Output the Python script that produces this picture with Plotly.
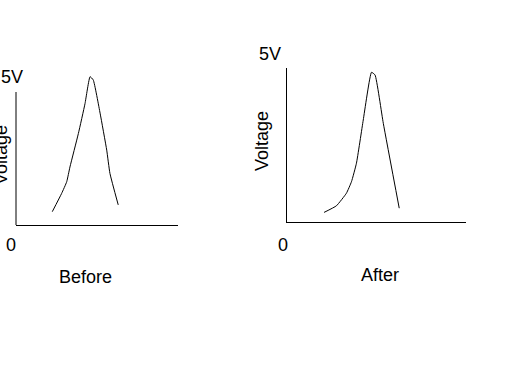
import plotly.graph_objects as go

# Data (time units 0-10, voltage in volts, peak = 5V)
before_t = [2.24, 2.82, 3.13, 3.33, 3.85, 4.26, 4.57, 4.77, 5.19, 5.60, 5.80, 6.31]
before_v = [0.45, 1.07, 1.46, 1.96, 3.09, 4.10, 5.01, 4.90, 3.78, 2.53, 1.74, 0.68]
after_t = [2.07, 2.76, 3.32, 3.60, 3.88, 4.26, 4.72, 4.92, 5.38, 6.27]
after_v = [0.32, 0.54, 0.96, 1.34, 1.96, 3.40, 4.99, 4.90, 3.29, 0.46]
panel_titles = ["Before", "After"]
y_label = "Voltage"
tick_top = "5V"
tick_zero = "0"

W, H = 512, 384
def px(x):
    return x / W
def py(y):
    return 1 - y / H

fig = go.Figure()
fig.add_trace(go.Scatter(x=before_t, y=before_v, mode="lines",
                         line=dict(color="black", width=1, shape="spline", smoothing=0.4),
                         xaxis="x", yaxis="y", showlegend=False, hoverinfo="skip"))
fig.add_trace(go.Scatter(x=after_t, y=after_v, mode="lines",
                         line=dict(color="black", width=1, shape="spline", smoothing=0.4),
                         xaxis="x2", yaxis="y2", showlegend=False, hoverinfo="skip"))

ax_common = dict(showgrid=False, zeroline=False, showticklabels=False, ticks="",
                 showline=False, fixedrange=True)

fig.update_layout(
    width=W, height=H,
    margin=dict(l=0, r=0, t=0, b=0),
    paper_bgcolor="white", plot_bgcolor="white",
    font=dict(family="Liberation Sans, Arial, sans-serif", color="black", size=18),
    xaxis=dict(domain=[px(16), px(178)], range=[0, 10], anchor="y",
               **{**ax_common, "showline": True, "linecolor": "black", "linewidth": 1}),
    yaxis=dict(domain=[py(225), py(70)], range=[0, 155 / 29.6], anchor="x", **ax_common),
    xaxis2=dict(domain=[px(287), px(466)], range=[0, 10], anchor="y2",
                **{**ax_common, "showline": True, "linecolor": "black", "linewidth": 1}),
    yaxis2=dict(domain=[py(222), py(68)], range=[0, 154 / 30], anchor="x2",
                **{**ax_common, "showline": True, "linecolor": "black", "linewidth": 1}),
)

# left y-axis line (shorter than the panel so the peak rises above it)
fig.add_shape(type="line", xref="x domain", yref="y", x0=0, x1=0, y0=0, y1=133 / 29.6,
              line=dict(color="black", width=1))

ann = [
    (tick_top, 12, 77, 0), (tick_zero, 10.5, 245, 0), (y_label, 1, 155, -90),
    (panel_titles[0], 85, 277, 0),
    (tick_top, 270, 54, 0), (tick_zero, 282.5, 245, 0), (y_label, 262, 141, -90),
    (panel_titles[1], 380, 275, 0),
]
for text, x, y, rot in ann:
    fig.add_annotation(text=text, x=px(x), y=py(y), xref="paper", yref="paper",
                       showarrow=False, xanchor="center", yanchor="middle",
                       textangle=rot, font=dict(size=18))

fig.write_html("out.html", config={"displayModeBar": False},
               post_script="document.body.style.margin='0';")
